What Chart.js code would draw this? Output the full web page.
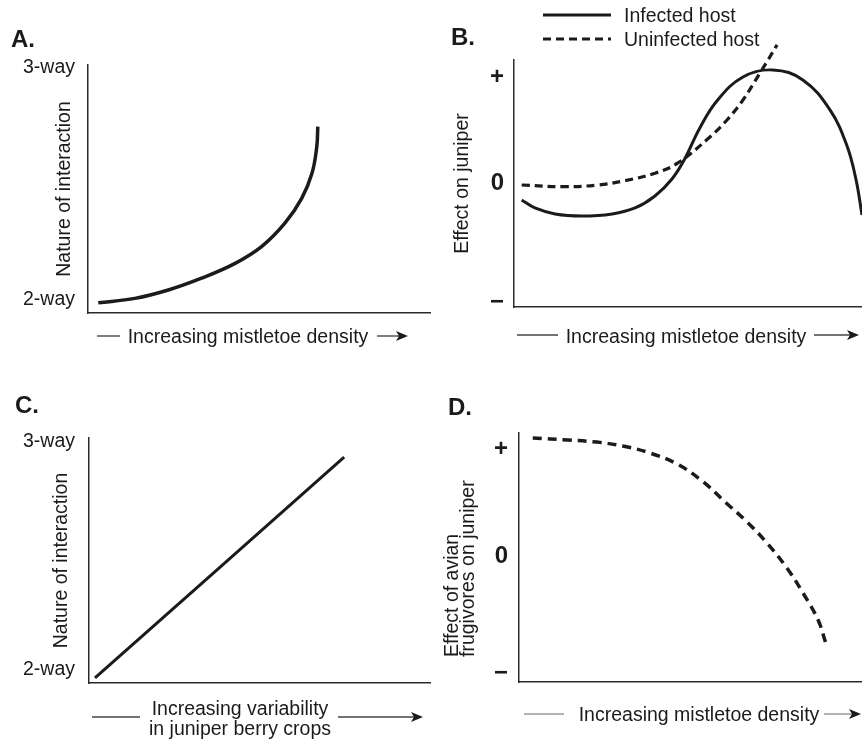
<!DOCTYPE html>
<html>
<head>
<meta charset="utf-8">
<script src="https://cdn.jsdelivr.net/npm/chart.js@4.4.1/dist/chart.umd.min.js"></script>
<style>
  html, body { margin: 0; padding: 0; background: #fff; }
  #figure { position: relative; width: 862px; height: 740px; }
  #figure canvas { position: absolute; }
</style>
</head>
<body>
<div id="figure">
  <canvas id="panelA" width="431" height="370" style="left:0;top:0"></canvas>
  <canvas id="panelB" width="431" height="370" style="left:431px;top:0"></canvas>
  <canvas id="panelC" width="431" height="370" style="left:0;top:370px"></canvas>
  <canvas id="panelD" width="431" height="370" style="left:431px;top:370px"></canvas>
</div>
<script>
// --- data (x = relative position along the axis, 0-100) ---

// A. nature of interaction vs mistletoe density
const A_DENSITY = [3.0, 13.7, 23.4, 33.1, 42.9, 50.6, 57.4, 62.3, 65.3, 66.7, 67.0];
const A_INTERACTION = [1.988, 2.007, 2.043, 2.094, 2.158, 2.230, 2.331, 2.438, 2.546, 2.661, 2.747];

// B. effect on juniper vs mistletoe density
const B_INFECTED_X = [2.2, 6.0, 11.8, 19.5, 28.2, 34.8, 40.5, 45.4, 48.9, 53.4, 58.3, 65.8, 74.4, 83.0, 90.8, 95.7, 98.3, 100];
const B_INFECTED_Y = [-0.16, -0.236, -0.292, -0.311, -0.292, -0.236, -0.123, 0.038, 0.217, 0.519, 0.774, 1.0, 1.066, 0.972, 0.689, 0.349, 0.028, -0.302];
const B_UNINFECTED_X = [2.2, 14.7, 24.1, 31.9, 40.5, 47.1, 56.3, 61.2, 65.8, 70.7, 75.6];
const B_UNINFECTED_Y = [-0.019, -0.035, -0.019, 0.022, 0.092, 0.189, 0.434, 0.594, 0.783, 1.038, 1.302];

// C. nature of interaction vs variability in berry crops
const C_VARIABILITY = [1.75, 74.6];
const C_INTERACTION = [1.965, 2.934];

// D. effect of avian frugivores vs mistletoe density
const D_DENSITY = [4.0, 14.3, 22.7, 30.3, 38.2, 46.1, 53.4, 60.1, 66.5, 72.3, 78.1, 82.8, 87.2, 89.4];
const D_EFFECT = [1.103, 1.084, 1.065, 1.028, 0.963, 0.86, 0.701, 0.505, 0.318, 0.121, -0.112, -0.346, -0.598, -0.81];

// tick labels
const INTERACTION_TICKS = [2, 3];
const INTERACTION_LABELS = ['2-way', '3-way'];
const B_EFFECT_TICKS = [-1.13, 0, 1];
const D_EFFECT_TICKS = [-1.10, 0, 1];
const EFFECT_LABELS = ['\u2212', '0', '+'];

const FONT = "'Liberation Sans', Arial, Helvetica, sans-serif";
const INK = '#1b1b1b';
const AXIS = '#2a2a2a';

Chart.defaults.font.family = FONT;
Chart.defaults.color = INK;

const series = (xs, ys) => xs.map((x, i) => ({ x, y: ys[i] }));

function drawArrow(ctx, x0, x1, y, color) {
  ctx.strokeStyle = color;
  ctx.lineWidth = 1.5;
  ctx.beginPath();
  ctx.moveTo(x0, y);
  ctx.lineTo(x1 - 7, y);
  ctx.stroke();
  ctx.fillStyle = INK;
  ctx.beginPath();
  ctx.moveTo(x1, y);
  ctx.lineTo(x1 - 12, y - 5);
  ctx.lineTo(x1 - 9, y);
  ctx.lineTo(x1 - 12, y + 5);
  ctx.closePath();
  ctx.fill();
}

// panel letter, arrowed x caption, optional legend / stacked y caption
const panelDecor = {
  id: 'panelDecor',
  afterDraw(chart, _args, opts) {
    const { ctx } = chart;
    ctx.save();

    ctx.fillStyle = INK;
    ctx.font = `bold 24px ${FONT}`;
    ctx.textAlign = 'left';
    ctx.textBaseline = 'alphabetic';
    ctx.fillText(opts.letter, opts.letterAt[0], opts.letterAt[1]);

    const cap = opts.caption;
    ctx.font = `19.5px ${FONT}`;
    ctx.textAlign = 'center';
    cap.lines.forEach((t, i) => ctx.fillText(t, cap.x, cap.baseline + i * 20));
    const ruleColor = cap.ruleColor || '#444';
    ctx.strokeStyle = ruleColor;
    ctx.lineWidth = 1.5;
    ctx.beginPath();
    ctx.moveTo(cap.rule[0], cap.ruleY);
    ctx.lineTo(cap.rule[1], cap.ruleY);
    ctx.stroke();
    drawArrow(ctx, cap.arrow[0], cap.arrow[1], cap.ruleY, ruleColor);

    if (opts.legend) {
      const lg = opts.legend;
      ctx.textAlign = 'left';
      chart.data.datasets.forEach((ds, i) => {
        ctx.strokeStyle = ds.borderColor;
        ctx.lineWidth = ds.borderWidth;
        ctx.setLineDash(ds.borderDash || []);
        ctx.beginPath();
        ctx.moveTo(lg.x0, lg.lineYs[i]);
        ctx.lineTo(lg.x1, lg.lineYs[i]);
        ctx.stroke();
        ctx.setLineDash([]);
        ctx.fillStyle = INK;
        ctx.fillText(ds.label, lg.textX, lg.baselines[i]);
      });
    }

    if (opts.yCaption) {
      const yc = opts.yCaption;
      ctx.textAlign = 'left';
      ctx.textBaseline = 'alphabetic';
      yc.lines.forEach((t, i) => {
        ctx.save();
        ctx.translate(yc.xs[i], yc.start);
        ctx.rotate(-Math.PI / 2);
        ctx.fillText(t, 0, 0);
        ctx.restore();
      });
    }
    ctx.restore();
  },
};

function makePanel(canvasId, p) {
  return new Chart(document.getElementById(canvasId), {
    type: 'line',
    data: { datasets: p.datasets },
    options: {
      responsive: false,
      animation: false,
      devicePixelRatio: 1,
      events: [],
      layout: { padding: p.padding },
      elements: {
        point: { radius: 0 },
        line: { tension: 0.4, capBezierPoints: false, borderCapStyle: 'butt', fill: false },
      },
      plugins: {
        legend: { display: false },
        tooltip: { enabled: false },
        panelDecor: p.decor,
      },
      scales: {
        x: {
          type: 'linear',
          min: 0,
          max: 100,
          ticks: { display: false },
          grid: { display: false, drawTicks: false },
          border: { display: true, color: AXIS, width: 1.5 },
          afterFit: (s) => { s.height = 0; },
        },
        y: {
          type: 'linear',
          min: p.yRange[0],
          max: p.yRange[1],
          afterBuildTicks: (s) => { s.ticks = p.tickValues.map((value) => ({ value })); },
          afterFit: (s) => { s.width = p.axisWidth; },
          ticks: {
            callback: (v, i) => p.tickLabels[i],
            font: p.tickFont,
            color: INK,
            padding: p.tickPadding,
          },
          grid: { display: false, drawTicks: false },
          border: { display: true, color: AXIS, width: 1.5 },
          title: p.yTitle
            ? { display: true, text: p.yTitle, font: { family: FONT, size: 19.5 }, color: INK, padding: { top: p.titleOffset, bottom: 0 } }
            : { display: false },
        },
      },
    },
    plugins: [panelDecor],
  });
}

makePanel('panelA', {
  datasets: [{ data: series(A_DENSITY, A_INTERACTION), borderColor: INK, borderWidth: 3.5 }],
  yRange: [1.944, 3.013],
  tickValues: INTERACTION_TICKS,
  tickLabels: INTERACTION_LABELS,
  tickFont: { size: 19.5 },
  tickPadding: 13,
  yTitle: 'Nature of interaction',
  titleOffset: 53,
  axisWidth: 88,
  padding: { left: 0, right: 0, top: 65, bottom: 57 },
  decor: {
    letter: 'A.', letterAt: [11, 47],
    caption: { lines: ['Increasing mistletoe density'], x: 248, baseline: 343, ruleY: 336, rule: [97, 120], arrow: [377, 408], ruleColor: '#555' },
  },
});

makePanel('panelB', {
  datasets: [
    { label: 'Infected host', data: series(B_INFECTED_X, B_INFECTED_Y), borderColor: INK, borderWidth: 3 },
    { label: 'Uninfected host', data: series(B_UNINFECTED_X, B_UNINFECTED_Y), borderColor: INK, borderWidth: 3.2, borderDash: [8, 5], clip: false },
  ],
  yRange: [-1.17, 1.16],
  tickValues: B_EFFECT_TICKS,
  tickLabels: EFFECT_LABELS,
  tickFont: { size: 24, weight: 'bold' },
  tickPadding: 10,
  yTitle: 'Effect on juniper',
  titleOffset: 20,
  axisWidth: 83,
  padding: { left: 0, right: 0, top: 60, bottom: 63 },
  decor: {
    letter: 'B.', letterAt: [20, 45],
    caption: { lines: ['Increasing mistletoe density'], x: 255, baseline: 343, ruleY: 335, rule: [86, 127], arrow: [383, 428] },
    legend: { x0: 112, x1: 180, textX: 193, lineYs: [15, 39], baselines: [22, 46] },
  },
});

makePanel('panelC', {
  datasets: [{ data: series(C_VARIABILITY, C_INTERACTION), borderColor: INK, borderWidth: 3 }],
  yRange: [1.943, 3.018],
  tickValues: INTERACTION_TICKS,
  tickLabels: INTERACTION_LABELS,
  tickFont: { size: 19.5 },
  tickPadding: 14,
  yTitle: 'Nature of interaction',
  titleOffset: 50,
  axisWidth: 89,
  padding: { left: 0, right: 0, top: 68, bottom: 57 },
  decor: {
    letter: 'C.', letterAt: [15, 43],
    caption: { lines: ['Increasing variability', 'in juniper berry crops'], x: 240, baseline: 345, ruleY: 347, rule: [92, 140], arrow: [338, 423] },
  },
});

makePanel('panelD', {
  datasets: [{ data: series(D_DENSITY, D_EFFECT), borderColor: INK, borderWidth: 3.5, borderDash: [9, 6] }],
  yRange: [-1.178, 1.15],
  tickValues: D_EFFECT_TICKS,
  tickLabels: EFFECT_LABELS,
  tickFont: { size: 24, weight: 'bold' },
  tickPadding: 11,
  yTitle: null,
  axisWidth: 88,
  padding: { left: 0, right: 0, top: 63, bottom: 58 },
  decor: {
    letter: 'D.', letterAt: [17, 45],
    caption: { lines: ['Increasing mistletoe density'], x: 268, baseline: 351, ruleY: 344, rule: [93, 133], arrow: [393, 430], ruleColor: '#9a9a9a' },
    yCaption: { lines: ['Effect of avian', 'frugivores on juniper'], xs: [27, 43], start: 287 },
  },
});
</script>
</body>
</html>
